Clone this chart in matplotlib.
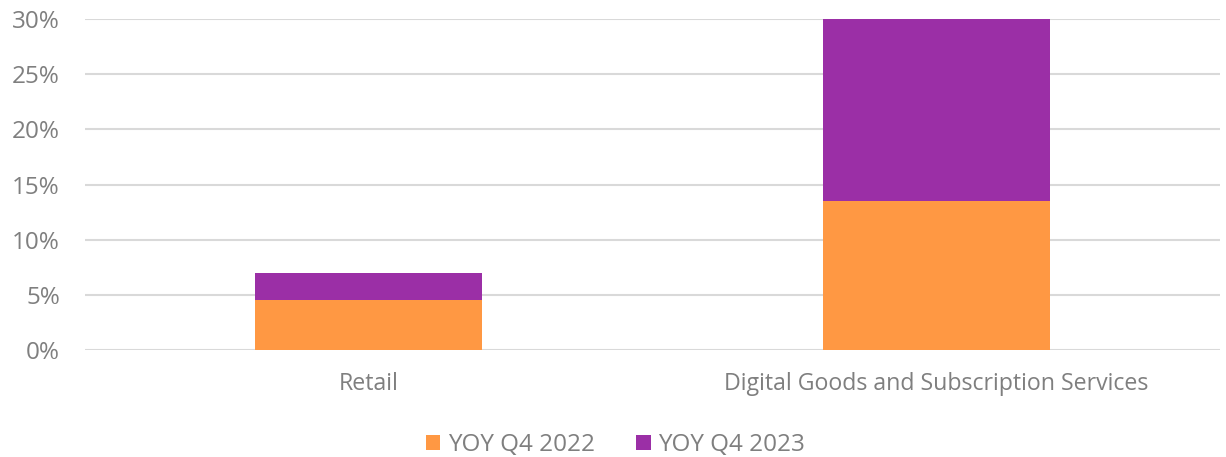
import matplotlib
matplotlib.use("Agg")
import matplotlib.pyplot as plt
from matplotlib.ticker import FuncFormatter

categories = ["Retail", "Digital Goods and Subscription Services"]
yoy_2022 = [4.5, 13.5]
yoy_2023 = [2.5, 16.5]
series_labels = ["YOY Q4 2022", "YOY Q4 2023"]
colors = ["#FF9843", "#9B2FA6"]

plt.rcParams["font.family"] = ["Open Sans", "DejaVu Sans"]
gray = "#7f7f7f"

fig = plt.figure(figsize=(12.26, 4.57), dpi=100)
ax = fig.add_axes([0.0693, 0.2341, 0.9258, 0.7243])

x = list(range(len(categories)))
ax.bar(x, yoy_2022, width=0.4, color=colors[0], label=series_labels[0], zorder=3)
ax.bar(x, yoy_2023, width=0.4, bottom=yoy_2022, color=colors[1],
       label=series_labels[1], zorder=3)

ax.set_xlim(-0.5, 1.5)
ax.set_ylim(0, 30)
ax.set_yticks(range(0, 31, 5))
ax.yaxis.set_major_formatter(FuncFormatter(lambda v, _: f"{v:.0f}%"))
ax.set_xticks(x)
ax.set_xticklabels(categories)

ax.grid(axis="y", color="#d9d9d9", linewidth=1.5, zorder=0)
for s in ax.spines.values():
    s.set_visible(False)
ax.tick_params(axis="both", length=0, colors=gray)
ax.tick_params(axis="y", pad=18, labelsize=17.5)
ax.tick_params(axis="x", pad=16, labelsize=16.7)

ax.legend(loc="upper center", bbox_to_anchor=(0.4673, -0.185), ncol=2, frameon=False,
          fontsize=17.5, labelcolor=gray, handlelength=0.6, handleheight=0.6,
          handletextpad=0.3, columnspacing=1.7)

fig.savefig("out.png", dpi=100)
